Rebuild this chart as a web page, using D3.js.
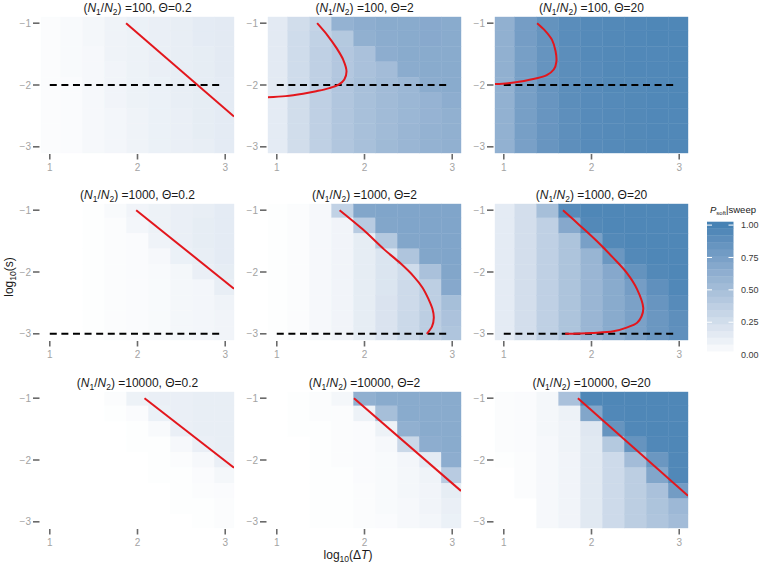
<!DOCTYPE html>
<html>
<head>
<meta charset="utf-8">
<script src="https://cdn.jsdelivr.net/npm/d3@7"></script>
<style>
  body { margin: 0; background: #fff; }
  svg { font-family: "Liberation Sans", Arial, sans-serif; }
</style>
</head>
<body>
<svg width="760" height="564"></svg>
<script>
// Cell centres (log10 dT along x, log10 s along y, top row first)
const xCenters = [1, 1.25, 1.5, 1.75, 2, 2.25, 2.5, 2.75, 3];
const yCenters = [-1, -1.25, -1.5, -1.75, -2, -2.25, -2.5, -2.75, -3];
const xTicks = [1, 2, 3];
const yTicks = [-1, -2, -3];
const legendTicks = [0, 0.25, 0.5, 0.75, 1];

const ratios = [100, 1000, 10000];
const thetas = ['0.2', '2', '20'];
const dashY = [-2, -3, null];

// P_soft|sweep per cell
const g100_02 = [
  [0.02, 0.04, 0.06, 0.09, 0.11, 0.12, 0.13, 0.15, 0.16],
  [0.02, 0.04, 0.06, 0.09, 0.10, 0.12, 0.13, 0.15, 0.16],
  [0.02, 0.04, 0.05, 0.09, 0.10, 0.12, 0.13, 0.14, 0.16],
  [0.02, 0.04, 0.05, 0.08, 0.10, 0.12, 0.13, 0.14, 0.16],
  [0.02, 0.03, 0.05, 0.08, 0.10, 0.11, 0.13, 0.14, 0.15],
  [0.02, 0.03, 0.05, 0.08, 0.10, 0.11, 0.13, 0.14, 0.15],
  [0.02, 0.03, 0.05, 0.07, 0.09, 0.11, 0.12, 0.14, 0.15],
  [0.02, 0.03, 0.05, 0.07, 0.09, 0.11, 0.12, 0.14, 0.15],
  [0.02, 0.03, 0.05, 0.07, 0.09, 0.11, 0.12, 0.13, 0.15]
];
const g100_2 = [
  [0.16, 0.26, 0.33, 0.60, 0.64, 0.66, 0.66, 0.67, 0.66],
  [0.16, 0.27, 0.35, 0.42, 0.62, 0.65, 0.66, 0.67, 0.66],
  [0.16, 0.27, 0.36, 0.43, 0.48, 0.64, 0.66, 0.66, 0.66],
  [0.16, 0.27, 0.36, 0.43, 0.48, 0.52, 0.65, 0.66, 0.66],
  [0.16, 0.27, 0.36, 0.44, 0.49, 0.53, 0.56, 0.65, 0.66],
  [0.15, 0.26, 0.36, 0.44, 0.49, 0.53, 0.56, 0.59, 0.64],
  [0.15, 0.26, 0.36, 0.44, 0.49, 0.53, 0.56, 0.59, 0.62],
  [0.15, 0.26, 0.36, 0.44, 0.49, 0.53, 0.57, 0.60, 0.62],
  [0.15, 0.26, 0.36, 0.44, 0.49, 0.54, 0.57, 0.60, 0.62]
];
const g100_20 = [
  [0.62, 0.77, 0.86, 0.91, 0.93, 0.94, 0.95, 0.96, 0.96],
  [0.62, 0.77, 0.85, 0.91, 0.93, 0.94, 0.95, 0.96, 0.96],
  [0.62, 0.76, 0.85, 0.90, 0.93, 0.94, 0.95, 0.95, 0.96],
  [0.62, 0.76, 0.85, 0.90, 0.92, 0.94, 0.95, 0.95, 0.96],
  [0.61, 0.76, 0.85, 0.90, 0.92, 0.94, 0.94, 0.95, 0.96],
  [0.61, 0.76, 0.84, 0.90, 0.92, 0.93, 0.94, 0.95, 0.96],
  [0.61, 0.76, 0.84, 0.89, 0.92, 0.93, 0.94, 0.95, 0.95],
  [0.61, 0.76, 0.84, 0.89, 0.92, 0.93, 0.94, 0.95, 0.95],
  [0.61, 0.75, 0.84, 0.89, 0.92, 0.93, 0.94, 0.95, 0.95]
];
const g1000_02 = [
  [0.00, 0.00, 0.01, 0.04, 0.08, 0.10, 0.12, 0.13, 0.15],
  [0.00, 0.00, 0.01, 0.02, 0.07, 0.10, 0.12, 0.14, 0.15],
  [0.00, 0.00, 0.01, 0.02, 0.03, 0.09, 0.12, 0.14, 0.15],
  [0.00, 0.00, 0.01, 0.02, 0.03, 0.05, 0.11, 0.13, 0.15],
  [0.00, 0.00, 0.01, 0.02, 0.03, 0.04, 0.06, 0.12, 0.14],
  [0.00, 0.00, 0.01, 0.02, 0.03, 0.04, 0.06, 0.07, 0.13],
  [0.00, 0.00, 0.01, 0.02, 0.03, 0.04, 0.06, 0.07, 0.09],
  [0.00, 0.00, 0.01, 0.02, 0.03, 0.04, 0.06, 0.07, 0.08],
  [0.00, 0.00, 0.01, 0.02, 0.03, 0.04, 0.06, 0.07, 0.08]
];
const g1000_2 = [
  [0.01, 0.02, 0.05, 0.35, 0.70, 0.71, 0.71, 0.71, 0.71],
  [0.01, 0.02, 0.05, 0.08, 0.40, 0.70, 0.71, 0.71, 0.71],
  [0.01, 0.02, 0.05, 0.08, 0.14, 0.42, 0.70, 0.71, 0.71],
  [0.01, 0.02, 0.05, 0.08, 0.14, 0.20, 0.45, 0.70, 0.71],
  [0.01, 0.02, 0.05, 0.08, 0.14, 0.20, 0.27, 0.48, 0.70],
  [0.01, 0.02, 0.05, 0.08, 0.14, 0.20, 0.28, 0.37, 0.68],
  [0.01, 0.02, 0.05, 0.08, 0.14, 0.21, 0.28, 0.37, 0.50],
  [0.01, 0.02, 0.05, 0.08, 0.14, 0.21, 0.29, 0.38, 0.47],
  [0.01, 0.02, 0.05, 0.08, 0.14, 0.21, 0.29, 0.38, 0.45]
];
const g1000_20 = [
  [0.15, 0.25, 0.50, 0.92, 0.96, 0.96, 0.96, 0.96, 0.96],
  [0.15, 0.25, 0.36, 0.68, 0.94, 0.96, 0.96, 0.96, 0.96],
  [0.15, 0.25, 0.36, 0.46, 0.75, 0.94, 0.96, 0.96, 0.96],
  [0.15, 0.25, 0.36, 0.46, 0.58, 0.82, 0.94, 0.96, 0.96],
  [0.15, 0.25, 0.36, 0.46, 0.57, 0.68, 0.86, 0.94, 0.96],
  [0.15, 0.25, 0.36, 0.46, 0.57, 0.66, 0.77, 0.88, 0.95],
  [0.15, 0.25, 0.36, 0.46, 0.57, 0.66, 0.74, 0.84, 0.92],
  [0.15, 0.25, 0.36, 0.46, 0.57, 0.66, 0.74, 0.82, 0.89],
  [0.15, 0.25, 0.36, 0.46, 0.57, 0.66, 0.74, 0.82, 0.88]
];
const g10000_02 = [
  [0.00, 0.00, 0.00, 0.02, 0.10, 0.12, 0.12, 0.13, 0.13],
  [0.00, 0.00, 0.00, 0.01, 0.03, 0.11, 0.12, 0.13, 0.13],
  [0.00, 0.00, 0.00, 0.00, 0.01, 0.04, 0.12, 0.13, 0.13],
  [0.00, 0.00, 0.00, 0.00, 0.01, 0.01, 0.05, 0.12, 0.13],
  [0.00, 0.00, 0.00, 0.00, 0.00, 0.01, 0.02, 0.05, 0.12],
  [0.00, 0.00, 0.00, 0.00, 0.00, 0.01, 0.01, 0.03, 0.06],
  [0.00, 0.00, 0.00, 0.00, 0.00, 0.00, 0.01, 0.02, 0.03],
  [0.00, 0.00, 0.00, 0.00, 0.00, 0.00, 0.01, 0.01, 0.02],
  [0.00, 0.00, 0.00, 0.00, 0.00, 0.00, 0.00, 0.01, 0.02]
];
const g10000_2 = [
  [0.00, 0.01, 0.02, 0.06, 0.62, 0.66, 0.66, 0.66, 0.66],
  [0.00, 0.01, 0.02, 0.02, 0.10, 0.50, 0.66, 0.66, 0.66],
  [0.00, 0.01, 0.01, 0.02, 0.03, 0.10, 0.62, 0.66, 0.66],
  [0.00, 0.00, 0.01, 0.02, 0.03, 0.05, 0.30, 0.64, 0.66],
  [0.00, 0.00, 0.01, 0.02, 0.03, 0.04, 0.07, 0.15, 0.64],
  [0.00, 0.00, 0.01, 0.01, 0.03, 0.04, 0.06, 0.09, 0.40],
  [0.00, 0.00, 0.01, 0.01, 0.02, 0.04, 0.06, 0.08, 0.14],
  [0.00, 0.00, 0.01, 0.01, 0.02, 0.04, 0.05, 0.08, 0.12],
  [0.00, 0.00, 0.01, 0.01, 0.02, 0.03, 0.05, 0.07, 0.11]
];
const g10000_20 = [
  [0.02, 0.03, 0.06, 0.48, 0.96, 0.96, 0.96, 0.96, 0.96],
  [0.02, 0.03, 0.06, 0.10, 0.70, 0.95, 0.96, 0.96, 0.96],
  [0.02, 0.03, 0.06, 0.09, 0.18, 0.85, 0.95, 0.96, 0.96],
  [0.02, 0.03, 0.05, 0.09, 0.17, 0.42, 0.85, 0.95, 0.96],
  [0.01, 0.02, 0.05, 0.08, 0.17, 0.28, 0.52, 0.82, 0.95],
  [0.00, 0.02, 0.05, 0.08, 0.17, 0.28, 0.38, 0.70, 0.95],
  [0.00, 0.02, 0.05, 0.08, 0.17, 0.28, 0.38, 0.48, 0.78],
  [0.00, 0.00, 0.05, 0.08, 0.17, 0.28, 0.38, 0.46, 0.55],
  [0.00, 0.00, 0.05, 0.08, 0.17, 0.28, 0.38, 0.45, 0.52]
];

// Red theoretical curves, [log10 dT, log10 s]
const c100_02 = [[1.87, -1], [3.1, -2.51]];
const c100_2 = [[1.46, -1], [1.58, -1.2], [1.68, -1.4], [1.76, -1.6], [1.795, -1.78],
  [1.77, -1.91], [1.71, -1.99], [1.6, -2.05], [1.45, -2.1], [1.3, -2.14], [1.1, -2.18], [0.88, -2.2]];
const c100_20 = [[1.38, -1], [1.47, -1.12], [1.55, -1.27], [1.59, -1.45], [1.6, -1.62],
  [1.57, -1.75], [1.49, -1.84], [1.35, -1.9], [1.23, -1.935], [1.05, -1.97], [0.88, -1.985]];
const c1000_02 = [[1.985, -1], [3.1, -2.27]];
const c1000_2 = [[1.716, -1], [1.98, -1.31], [2.22, -1.63], [2.41, -1.86], [2.56, -2.07],
  [2.66, -2.25], [2.73, -2.44], [2.775, -2.6], [2.79, -2.74], [2.77, -2.88], [2.71, -3]];
const c1000_20 = [[1.675, -1], [1.87, -1.25], [2.06, -1.5], [2.24, -1.76], [2.4, -2.01],
  [2.52, -2.28], [2.59, -2.58], [2.57, -2.72], [2.52, -2.82], [2.4, -2.9], [2.25, -2.96], [2.0, -2.985], [1.7, -3]];
const c10000_02 = [[2.08, -1], [3.1, -2.125]];
const c10000_2 = [[1.88, -1], [3.1, -2.5]];
const c10000_20 = [[1.845, -1], [3.1, -2.58]];

const grids = [
  [g100_02, g100_2, g100_20],
  [g1000_02, g1000_2, g1000_20],
  [g10000_02, g10000_2, g10000_20]
];
const curves = [
  [c100_02, c100_2, c100_20],
  [c1000_02, c1000_2, c1000_20],
  [c10000_02, c10000_2, c10000_20]
];

// Layout
const colLeft = [41, 268, 495];
const rowTop = [17, 204, 392];
const pw = 193, ph = 136;
const xDomain = [0.9, 3.1], yDomain = [-3.1, -0.9];
const half = 0.125;

const color = d3.scaleLinear().domain([0, 1])
  .range(['#ffffff', '#4682b4'])
  .interpolate(d3.interpolateLab);

const svg = d3.select('svg');
const defs = svg.append('defs');

function title(sel, ratio, theta) {
  sel.append('tspan').text('(');
  sel.append('tspan').attr('font-style', 'italic').text('N');
  sel.append('tspan').attr('font-size', 8.5).attr('dy', 3).text('1');
  sel.append('tspan').attr('dy', -3).text('/');
  sel.append('tspan').attr('font-style', 'italic').text('N');
  sel.append('tspan').attr('font-size', 8.5).attr('dy', 3).text('2');
  sel.append('tspan').attr('dy', -3).text(') =' + ratio + ', \u0398=' + theta);
}

rowTop.forEach((top, r) => {
  colLeft.forEach((left, c) => {
    const x = d3.scaleLinear().domain(xDomain).range([left, left + pw]);
    const y = d3.scaleLinear().domain(yDomain).range([top + ph, top]);
    const g = svg.append('g');
    const clipId = 'clip' + r + c;
    defs.append('clipPath').attr('id', clipId)
      .append('rect').attr('x', left).attr('y', top).attr('width', pw).attr('height', ph);

    // tiles
    const cells = [];
    grids[r][c].forEach((row, i) => row.forEach((v, j) => cells.push({ xc: xCenters[j], yc: yCenters[i], v })));
    g.append('g').selectAll('rect')
      .data(cells)
      .enter()
      .append('rect')
      .attr('x', d => x(Math.max(xDomain[0], d.xc - half)))
      .attr('width', d => x(Math.min(xDomain[1], d.xc + half)) - x(Math.max(xDomain[0], d.xc - half)))
      .attr('y', d => y(Math.min(yDomain[1], d.yc + half)))
      .attr('height', d => y(Math.max(yDomain[0], d.yc - half)) - y(Math.min(yDomain[1], d.yc + half)))
      .attr('fill', d => color(d.v))
      .attr('stroke', d => color(d.v))
      .attr('stroke-width', 0.4);

    // dashed line
    if (dashY[r] !== null) {
      g.append('line')
        .attr('x1', x(1)).attr('x2', x(2.95))
        .attr('y1', y(dashY[r])).attr('y2', y(dashY[r]))
        .attr('stroke', '#000').attr('stroke-width', 2)
        .attr('stroke-dasharray', '7,4.6');
    }

    // red curve
    const line = d3.line().x(d => x(d[0])).y(d => y(d[1])).curve(d3.curveCatmullRom.alpha(0.5));
    g.append('path')
      .attr('clip-path', 'url(#' + clipId + ')')
      .attr('d', line(curves[r][c]))
      .attr('fill', 'none')
      .attr('stroke', '#e3161c')
      .attr('stroke-width', 2);

    // x axis
    const xa = g.append('g');
    xa.selectAll('line').data(xTicks).enter().append('line')
      .attr('x1', d => x(d)).attr('x2', d => x(d))
      .attr('y1', top + ph + 1).attr('y2', top + ph + 6.5)
      .attr('stroke', '#6a6a6a').attr('stroke-width', 1.6);
    xa.selectAll('text').data(xTicks).enter().append('text')
      .attr('x', d => x(d)).attr('y', top + ph + 18)
      .attr('text-anchor', 'middle')
      .attr('font-size', 10).attr('fill', '#a3a3a3')
      .text(d => d);

    // y axis
    const ya = g.append('g');
    ya.selectAll('line').data(yTicks).enter().append('line')
      .attr('x1', left - 8).attr('x2', left - 1.5)
      .attr('y1', d => y(d)).attr('y2', d => y(d))
      .attr('stroke', '#6a6a6a').attr('stroke-width', 1.6);
    ya.selectAll('text').data(yTicks).enter().append('text')
      .attr('x', left - 10).attr('y', d => y(d))
      .attr('dy', '0.35em')
      .attr('text-anchor', 'end')
      .attr('font-size', 10).attr('fill', '#a3a3a3')
      .text(d => '\u2212' + Math.abs(d));

    // panel title
    g.append('text')
      .attr('x', left + pw / 2).attr('y', top - 5.5)
      .attr('text-anchor', 'middle')
      .attr('font-size', 12).attr('fill', '#1a1a1a')
      .call(title, ratios[r], thetas[c]);
  });
});

// axis titles
const xt = svg.append('text')
  .attr('x', 348).attr('y', 559)
  .attr('text-anchor', 'middle')
  .attr('font-size', 12).attr('fill', '#1a1a1a');
xt.append('tspan').text('log');
xt.append('tspan').attr('font-size', 8.5).attr('dy', 3).text('10');
xt.append('tspan').attr('dy', -3).text('(\u0394');
xt.append('tspan').attr('font-style', 'italic').text('T');
xt.append('tspan').text(')');

const yt = svg.append('text')
  .attr('transform', 'translate(13,277) rotate(-90)')
  .attr('text-anchor', 'middle')
  .attr('font-size', 12).attr('fill', '#1a1a1a');
yt.append('tspan').text('log');
yt.append('tspan').attr('font-size', 8.5).attr('dy', 3).text('10');
yt.append('tspan').attr('dy', -3).text('(s)');

// legend colourbar
const nbin = 20;
const barX = 707, barW = 26.5, barTop = 221.7, barBottom = 358;
const binH = (barBottom - barTop) / nbin;
const ly = d3.scaleLinear().domain([0, 1]).range([barBottom - binH / 2, barTop + binH / 2]);
const bins = d3.range(nbin).map(i => i / (nbin - 1));
const legend = svg.append('g');
legend.selectAll('rect').data(bins).enter().append('rect')
  .attr('x', barX).attr('width', barW)
  .attr('y', (d, i) => barBottom - (i + 1) * binH)
  .attr('height', binH + 0.3)
  .attr('fill', d => color(d));
legend.selectAll('line.l').data(legendTicks.slice(1)).enter().append('line')
  .attr('x1', barX).attr('x2', barX + 5)
  .attr('y1', d => ly(d)).attr('y2', d => ly(d))
  .attr('stroke', '#fff').attr('stroke-width', 1);
legend.selectAll('line.r').data(legendTicks.slice(1)).enter().append('line')
  .attr('x1', barX + barW - 5).attr('x2', barX + barW)
  .attr('y1', d => ly(d)).attr('y2', d => ly(d))
  .attr('stroke', '#fff').attr('stroke-width', 1);
legend.selectAll('text').data(legendTicks).enter().append('text')
  .attr('x', 741).attr('y', d => ly(d))
  .attr('dy', '0.35em')
  .attr('font-size', 9).attr('fill', '#3a3a3a')
  .text(d => d.toFixed(2));

const lt = legend.append('text')
  .attr('x', 710).attr('y', 213)
  .attr('font-size', 9.5).attr('fill', '#1a1a1a');
lt.append('tspan').attr('font-style', 'italic').text('P');
lt.append('tspan').attr('font-size', 6).attr('dy', 2).text('soft');
lt.append('tspan').attr('dy', -2).text('|sweep');
</script>
</body>
</html>
